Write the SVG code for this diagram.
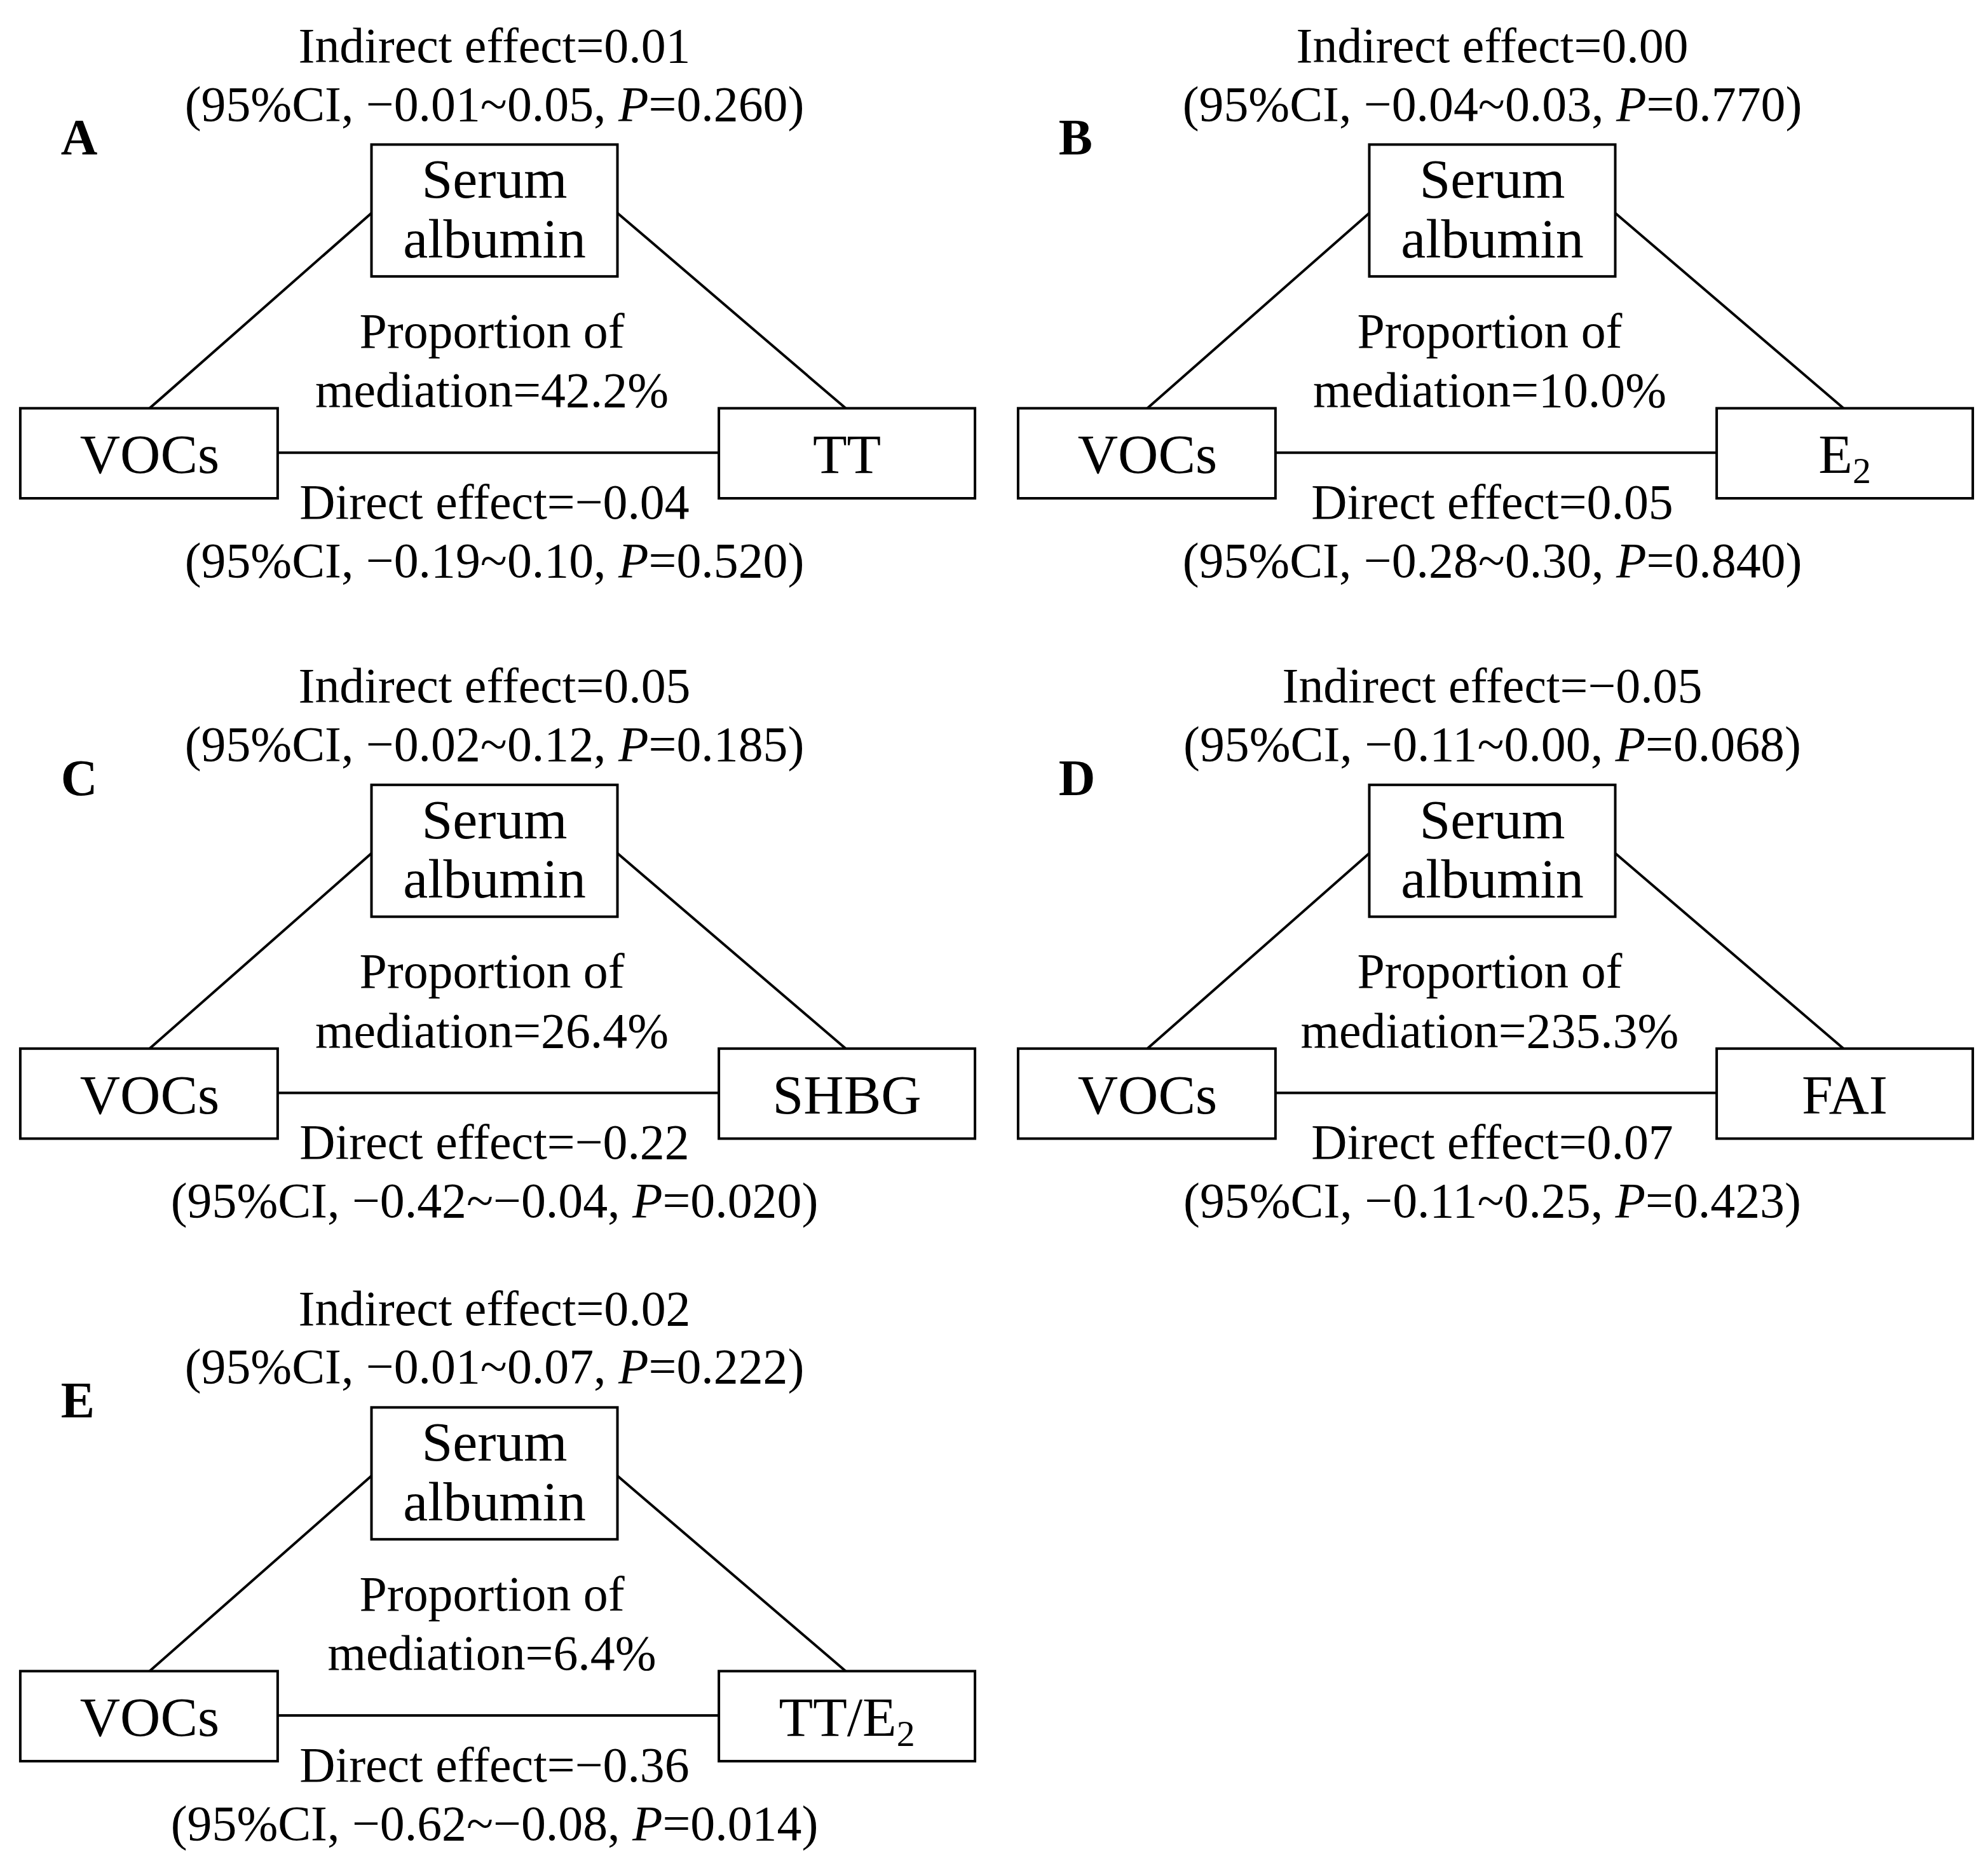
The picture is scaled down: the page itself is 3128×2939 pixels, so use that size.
<svg xmlns="http://www.w3.org/2000/svg" width="3128" height="2939" viewBox="0 0 3128 2939">
<style>
text{font-family:"Liberation Serif","Times New Roman",serif;font-size:39px;fill:#000}
.c{text-anchor:middle}
.b{font-size:44px}
.lab{font-weight:bold;font-size:40px}
rect{fill:#fff;stroke:#000;stroke-width:2}
line{stroke:#000;stroke-width:2}
.s{font-size:29px}
</style>
<rect x="0" y="0" width="3128" height="2939" style="fill:#fff;stroke:none"/>
<g transform="scale(1.9949)">
<g id="panelA">
<g id="A-edges"><line x1="118" y1="322" x2="293" y2="168"/><line x1="487" y1="168" x2="667" y2="322"/><line x1="219" y1="357" x2="567" y2="357"/></g>
<g id="A-serum"><rect x="293" y="114" width="194" height="104"/><text class="c b" x="390" y="156">Serum</text><text class="c b" x="390" y="203">albumin</text></g>
<g id="A-vocs"><rect x="16" y="322" width="203" height="71"/><text class="c b" x="118" y="373">VOCs</text></g>
<g id="A-tt"><rect x="567" y="322" width="202" height="71"/><text class="c b" x="668" y="373">TT</text></g>
<text class="lab" x="48" y="122">A</text>
<text class="c" x="390" y="49">Indirect effect=0.01</text>
<text class="c" x="390" y="95">(95%CI, −0.01~0.05, <tspan font-style="italic">P</tspan>=0.260)</text>
<text class="c" x="388" y="274">Proportion of</text>
<text class="c" x="388" y="321">mediation=42.2%</text>
<text class="c" x="390" y="409">Direct effect=−0.04</text>
<text class="c" x="390" y="455">(95%CI, −0.19~0.10, <tspan font-style="italic">P</tspan>=0.520)</text>
</g>
<g id="panelB" transform="translate(787,0)">
<g id="B-edges"><line x1="118" y1="322" x2="293" y2="168"/><line x1="487" y1="168" x2="667" y2="322"/><line x1="219" y1="357" x2="567" y2="357"/></g>
<g id="B-serum"><rect x="293" y="114" width="194" height="104"/><text class="c b" x="390" y="156">Serum</text><text class="c b" x="390" y="203">albumin</text></g>
<g id="B-vocs"><rect x="16" y="322" width="203" height="71"/><text class="c b" x="118" y="373">VOCs</text></g>
<g id="B-e2"><rect x="567" y="322" width="202" height="71"/><text class="c b" x="668" y="373">E<tspan class="s" dy="8">2</tspan></text></g>
<text class="lab" x="48" y="122">B</text>
<text class="c" x="390" y="49">Indirect effect=0.00</text>
<text class="c" x="390" y="95">(95%CI, −0.04~0.03, <tspan font-style="italic">P</tspan>=0.770)</text>
<text class="c" x="388" y="274">Proportion of</text>
<text class="c" x="388" y="321">mediation=10.0%</text>
<text class="c" x="390" y="409">Direct effect=0.05</text>
<text class="c" x="390" y="455">(95%CI, −0.28~0.30, <tspan font-style="italic">P</tspan>=0.840)</text>
</g>
<g id="panelC" transform="translate(0,505)">
<g id="C-edges"><line x1="118" y1="322" x2="293" y2="168"/><line x1="487" y1="168" x2="667" y2="322"/><line x1="219" y1="357" x2="567" y2="357"/></g>
<g id="C-serum"><rect x="293" y="114" width="194" height="104"/><text class="c b" x="390" y="156">Serum</text><text class="c b" x="390" y="203">albumin</text></g>
<g id="C-vocs"><rect x="16" y="322" width="203" height="71"/><text class="c b" x="118" y="373">VOCs</text></g>
<g id="C-shbg"><rect x="567" y="322" width="202" height="71"/><text class="c b" x="668" y="373">SHBG</text></g>
<text class="lab" x="48" y="122">C</text>
<text class="c" x="390" y="49">Indirect effect=0.05</text>
<text class="c" x="390" y="95">(95%CI, −0.02~0.12, <tspan font-style="italic">P</tspan>=0.185)</text>
<text class="c" x="388" y="274">Proportion of</text>
<text class="c" x="388" y="321">mediation=26.4%</text>
<text class="c" x="390" y="409">Direct effect=−0.22</text>
<text class="c" x="390" y="455">(95%CI, −0.42~−0.04, <tspan font-style="italic">P</tspan>=0.020)</text>
</g>
<g id="panelD" transform="translate(787,505)">
<g id="D-edges"><line x1="118" y1="322" x2="293" y2="168"/><line x1="487" y1="168" x2="667" y2="322"/><line x1="219" y1="357" x2="567" y2="357"/></g>
<g id="D-serum"><rect x="293" y="114" width="194" height="104"/><text class="c b" x="390" y="156">Serum</text><text class="c b" x="390" y="203">albumin</text></g>
<g id="D-vocs"><rect x="16" y="322" width="203" height="71"/><text class="c b" x="118" y="373">VOCs</text></g>
<g id="D-fai"><rect x="567" y="322" width="202" height="71"/><text class="c b" x="668" y="373">FAI</text></g>
<text class="lab" x="48" y="122">D</text>
<text class="c" x="390" y="49">Indirect effect=−0.05</text>
<text class="c" x="390" y="95">(95%CI, −0.11~0.00, <tspan font-style="italic">P</tspan>=0.068)</text>
<text class="c" x="388" y="274">Proportion of</text>
<text class="c" x="388" y="321">mediation=235.3%</text>
<text class="c" x="390" y="409">Direct effect=0.07</text>
<text class="c" x="390" y="455">(95%CI, −0.11~0.25, <tspan font-style="italic">P</tspan>=0.423)</text>
</g>
<g id="panelE" transform="translate(0,996)">
<g id="E-edges"><line x1="118" y1="322" x2="293" y2="168"/><line x1="487" y1="168" x2="667" y2="322"/><line x1="219" y1="357" x2="567" y2="357"/></g>
<g id="E-serum"><rect x="293" y="114" width="194" height="104"/><text class="c b" x="390" y="156">Serum</text><text class="c b" x="390" y="203">albumin</text></g>
<g id="E-vocs"><rect x="16" y="322" width="203" height="71"/><text class="c b" x="118" y="373">VOCs</text></g>
<g id="E-tte2"><rect x="567" y="322" width="202" height="71"/><text class="c b" x="668" y="373">TT/E<tspan class="s" dy="8">2</tspan></text></g>
<text class="lab" x="48" y="122">E</text>
<text class="c" x="390" y="49">Indirect effect=0.02</text>
<text class="c" x="390" y="95">(95%CI, −0.01~0.07, <tspan font-style="italic">P</tspan>=0.222)</text>
<text class="c" x="388" y="274">Proportion of</text>
<text class="c" x="388" y="321">mediation=6.4%</text>
<text class="c" x="390" y="409">Direct effect=−0.36</text>
<text class="c" x="390" y="455">(95%CI, −0.62~−0.08, <tspan font-style="italic">P</tspan>=0.014)</text>
</g>
</g>
</svg>
